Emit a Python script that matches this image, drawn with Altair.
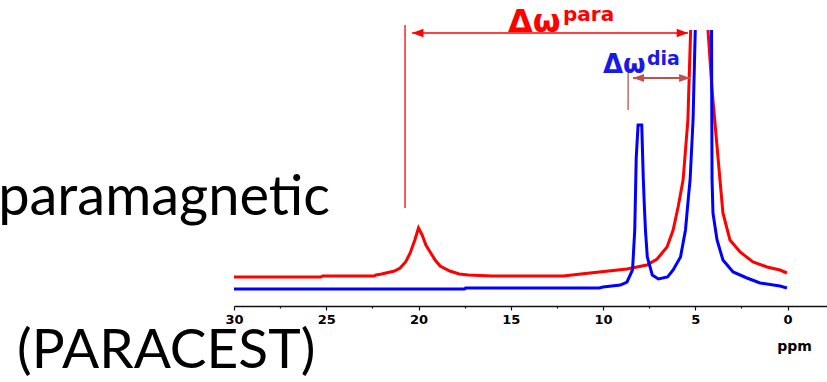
import altair as alt
import pandas as pd

# ---- spectrum values (ppm, intensity) ----
RED_PPM = [30.0, 25.3, 25.2, 22.4, 22.3, 22.0, 21.3, 21.0, 20.7, 20.45, 20.2, 20.0,
           19.8, 19.6, 19.37, 19.1, 18.83, 18.3, 17.8, 17.3, 16.0, 12.15, 11.2, 10.2,
           8.7, 7.62, 7.07, 6.53, 6.2, 5.93, 5.66, 5.4, 5.25, 4.75, 4.31, 4.09, 3.85,
           3.66, 3.5, 3.12, 2.57, 1.87, 1.11, 0.41, 0.03]
RED_INT = [29, 29, 30, 30, 31, 32, 35, 38, 44, 53, 66, 78,
           71, 61, 54, 46, 40, 35, 32, 31, 30, 30, 32, 34,
           37, 41, 47, 59, 76, 99, 126, 186, 276, 330, 276, 216, 166,
           126, 93, 66, 54, 44, 39, 36, 33]

BLUE_PPM = [30.0, 17.5, 17.45, 10.2, 10.0, 9.06, 8.7, 8.4, 8.28, 8.2, 8.1, 7.9,
            7.82, 7.76, 7.7, 7.6, 7.33, 7.0, 6.5, 6.2, 5.8, 5.53, 5.37, 5.28, 5.12,
            5.0, 4.56, 4.12, 4.09, 4.04, 3.82, 3.5, 2.95, 2.2, 1.49, 0.41, 0.03]
BLUE_INT = [17, 17, 18, 18, 19, 21, 24, 36, 76, 148, 181, 181,
            129, 100, 76, 49, 31, 27, 29, 36, 49, 76, 109, 126, 186,
            276, 330, 276, 126, 93, 66, 46, 34, 28, 23, 20, 18]

X_TICKS = [30, 27.5, 25, 22.5, 20, 17.5, 15, 12.5, 10, 7.5, 5, 2.5, 0]

# annotation spans (ppm)
PARA_MARK_PPM = [20.73]
PARA_MARK_INT = [281, 98]
PARA_ARROW_PPM = [20.35, 5.39]
PARA_ARROW_INT = [273]
DIA_MARK_PPM = [8.64]
DIA_MARK_INT = [233, 196]
DIA_ARROW_PPM = [8.37, 5.28]
DIA_ARROW_INT = [228]

RED = "#ff0000"
BLUE = "#0000ff"
BROWN = "#c0504d"

spec = pd.DataFrame(
    {"ppm": RED_PPM + BLUE_PPM,
     "int": RED_INT + BLUE_INT,
     "series": ["para"] * len(RED_PPM) + ["dia"] * len(BLUE_PPM),
     "order": list(range(len(RED_PPM))) + list(range(len(BLUE_PPM)))}
)

xscale = alt.Scale(domain=[30, -2.14], nice=False, zero=False)
yscale = alt.Scale(domain=[0, 276], nice=False, zero=False)

xaxis = alt.Axis(
    values=X_TICKS,
    labelExpr="datum.value % 5 === 0 ? format(datum.value, 'd') : ''",
    tickSize={"condition": {"test": "datum.value % 5 === 0", "value": 4}, "value": 2},
    tickColor="#111", tickWidth=1.2,
    domainColor="#111", domainWidth=1.5,
    labelFont="DejaVu Sans", labelFontWeight="bold", labelFontSize=13,
    labelColor="#000", labelPadding=3, labelOverlap=False, labelFlush=False,
    grid=False,
    title="ppm", titleFont="DejaVu Sans", titleFontWeight="bold", titleFontSize=14,
    titleColor="#000", titleX=560, titleY=44, titleAlign="center",
    titleBaseline="alphabetic", titleAngle=0,
)

X = alt.X("ppm:Q", scale=xscale, axis=xaxis)
Y = alt.Y("int:Q", scale=yscale, axis=None)

lines = alt.Chart(spec).mark_line(strokeWidth=3, clip=True, interpolate="linear").encode(
    x=X, y=Y,
    color=alt.Color("series:N", scale=alt.Scale(domain=["para", "dia"], range=[RED, BLUE]), legend=None),
    detail="series:N",
    order="order:Q",
)

def vrule(ppm_list, int_list, color, width):
    df = pd.DataFrame({"ppm": ppm_list, "int": [int_list[0]], "int2": [int_list[1]]})
    return alt.Chart(df).mark_rule(color=color, strokeWidth=width).encode(
        x=alt.X("ppm:Q", scale=xscale), y=alt.Y("int:Q", scale=yscale), y2="int2:Q")

def arrow(ppm_pair, int_list, color, width, size):
    df = pd.DataFrame({"ppm": [ppm_pair[0]], "ppm2": [ppm_pair[1]], "int": int_list})
    line = alt.Chart(df).mark_rule(color=color, strokeWidth=width).encode(
        x=alt.X("ppm:Q", scale=xscale), x2="ppm2:Q", y=alt.Y("int:Q", scale=yscale))
    left = alt.Chart(pd.DataFrame({"ppm": [ppm_pair[0]], "int": int_list})).mark_point(
        shape="M0,0L2,-0.75L2,0.75Z", filled=True, opacity=1, color=color, size=size, strokeWidth=0
    ).encode(x=alt.X("ppm:Q", scale=xscale), y=alt.Y("int:Q", scale=yscale))
    right = alt.Chart(pd.DataFrame({"ppm": [ppm_pair[1]], "int": int_list})).mark_point(
        shape="M0,0L-2,-0.75L-2,0.75Z", filled=True, opacity=1, color=color, size=size, strokeWidth=0
    ).encode(x=alt.X("ppm:Q", scale=xscale), y=alt.Y("int:Q", scale=yscale))
    return line + left + right

def label(txt, x, y, size, color, align="left", font="DejaVu Sans", weight="bold"):
    return alt.Chart(pd.DataFrame({"t": [txt]})).mark_text(
        align=align, baseline="alphabetic", font=font, fontSize=size,
        fontWeight=weight, color=color
    ).encode(x=alt.value(x), y=alt.value(y), text="t:N")

layers = [
    lines,
    vrule(PARA_MARK_PPM, PARA_MARK_INT, RED, 1.3),
    arrow(PARA_ARROW_PPM, PARA_ARROW_INT, RED, 1.5, 130),
    vrule(DIA_MARK_PPM, DIA_MARK_INT, BROWN, 1.3),
    arrow(DIA_ARROW_PPM, DIA_ARROW_INT, BROWN, 2, 120),
    label("Δω", 274, 2, 32, RED),
    label("para", 329, -9, 20, RED),
    label("Δω", 369, 43, 26, "#1a1ae6"),
    label("dia", 413, 35, 19, "#1a1ae6"),
    label("paramagnetic", 96, 185, 56, "#000", align="right", font="Lato", weight="normal"),
    label("(PARACEST)", -217, 338, 55, "#000", align="left", font="Lato", weight="normal"),
]

chart = alt.layer(*layers).properties(
    width=593, height=276,
    autosize=alt.AutoSizeParams(type="none"),
    padding={"left": 234, "top": 30, "right": 0, "bottom": 76},
    background="white",
).configure_view(stroke=None)

chart.save("out.html", embed_options={"renderer": "svg", "actions": False})
